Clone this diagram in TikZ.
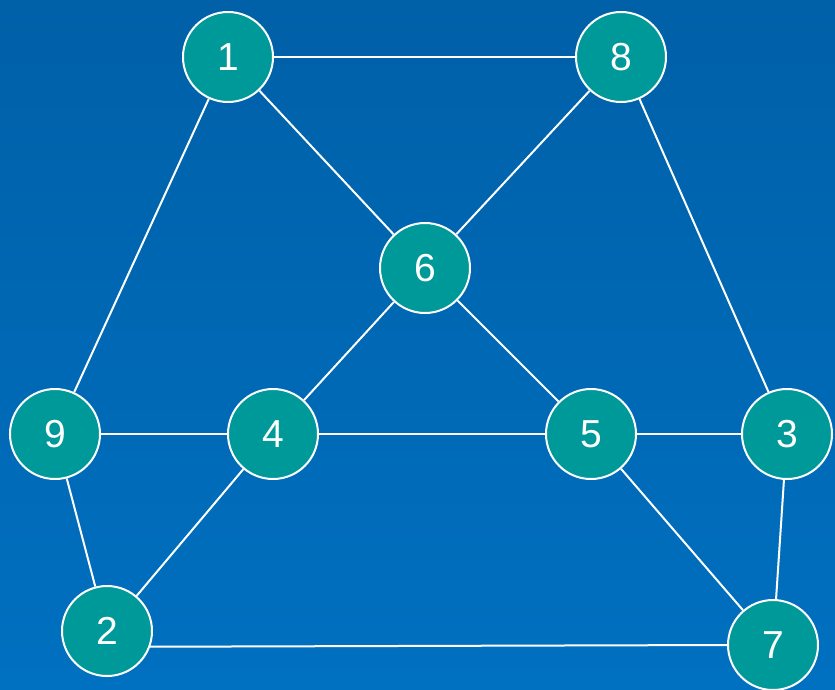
\documentclass[tikz,border=0pt]{standalone}
\usepackage{fontspec}
\setmainfont{Liberation Sans}
\definecolor{bgtop}{RGB}{0,96,168}
\definecolor{bgbot}{RGB}{0,112,192}
\definecolor{nodeteal}{RGB}{0,153,153}
\begin{document}
\begin{tikzpicture}[x=1pt,y=-1pt,
  vtx/.style={circle,draw=white,line width=2pt,fill=nodeteal,minimum size=90pt,inner sep=0pt,text=white,font=\fontsize{39}{39}\selectfont},
  edge/.style={draw=white,line width=2pt}]
\shade[top color=bgtop,bottom color=bgbot] (0,0) rectangle (835,689);
\useasboundingbox (0,0) rectangle (835,689);
\node[vtx] (n1) at (228,57) {1};
\node[vtx] (n8) at (621,57) {8};
\node[vtx] (n6) at (425,268) {6};
\node[vtx] (n9) at (55,434) {9};
\node[vtx] (n4) at (273,434) {4};
\node[vtx] (n5) at (591,434) {5};
\node[vtx] (n3) at (787,434) {3};
\node[vtx] (n2) at (107,631) {2};
\node[vtx] (n7) at (773,645) {7};
\draw[edge] (n1) -- (n8);
\draw[edge] (n1) -- (n6);
\draw[edge] (n1) -- (n9);
\draw[edge] (n8) -- (n6);
\draw[edge] (n8) -- (n3);
\draw[edge] (n6) -- (n4);
\draw[edge] (n6) -- (n5);
\draw[edge] (n9) -- (n4);
\draw[edge] (n4) -- (n5);
\draw[edge] (n5) -- (n3);
\draw[edge] (n5) -- (n7);
\draw[edge] (n9) -- (n2);
\draw[edge] (n4) -- (n2);
\draw[edge] (n3) -- (n7);
\draw[edge] (n2.-20) -- (n7.west);
\end{tikzpicture}
\end{document}
